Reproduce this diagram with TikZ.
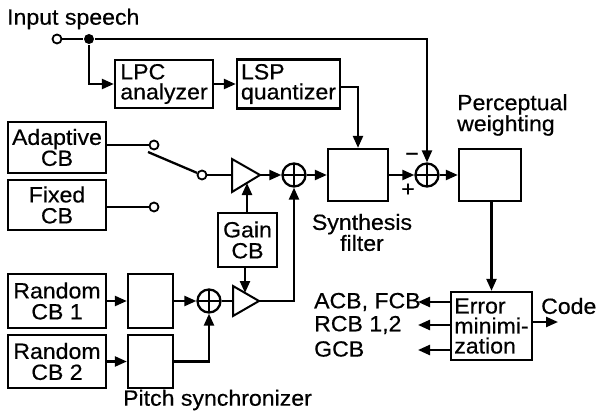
\documentclass[tikz,border=0pt]{standalone}
\usepackage{fontspec}
\setmainfont{Liberation Sans}[FakeStretch=1.05,FakeBold=0.5]
\usetikzlibrary{arrows.meta,calc}
\begin{document}
\begin{tikzpicture}[x=1pt,y=-1pt,
  line width=2.3pt,
  >={Triangle[length=12pt,width=10pt]},
  every node/.style={font=\fontsize{22}{21}\selectfont, inner sep=1pt},
  blk/.style={draw, line width=2.3pt, align=center},
  sumnode/.style={circle, draw, minimum size=23pt, inner sep=0pt,
    path picture={\draw[line width=2pt] (path picture bounding box.north) -- (path picture bounding box.south)
      (path picture bounding box.west) -- (path picture bounding box.east);}},
  term/.style={circle, draw, fill=white, minimum size=9pt, inner sep=0pt, line width=1.8pt},
  dotn/.style={circle, fill=black, minimum size=10pt, inner sep=0pt},
]
\useasboundingbox (0,0) rectangle (596,414);

% input
\node[anchor=west] (inlbl) at (5,19) {Input speech};
\node[term] (in) at (57,39) {};
\node[dotn] (dot) at (89,39) {};

% LPC / LSP
\node[blk, align=left, minimum width=98pt, minimum height=48pt] (lpc) at (164,84) {LPC\\[-1pt]analyzer};
\node[blk, align=left, minimum width=103pt, minimum height=49pt] (lsp) at (288.5,84) {LSP\\[-1pt]quantizer};

% codebooks
\node[blk, minimum width=98pt, minimum height=51pt] (acb) at (57,147.5) {Adaptive\\CB};
\node[blk, minimum width=98pt, minimum height=50pt] (fcb) at (57,205) {Fixed\\CB};
\node[blk, minimum width=98pt, minimum height=54pt] (rcb1) at (57,301) {Random\\CB 1};
\node[blk, minimum width=98pt, minimum height=53pt] (rcb2) at (57,361.5) {Random\\CB 2};

% pitch synchronizers
\node[blk, minimum width=45pt, minimum height=54pt] (ps1) at (150.5,301) {};
\node[blk, minimum width=45pt, minimum height=53pt] (ps2) at (150.5,361.5) {};
\node[anchor=west] (pslbl) at (121,400) {Pitch synchronizer};

% switch
\node[term] (c1) at (154,145) {};
\node[term] (c2) at (154,207) {};
\node[term] (piv) at (202,175) {};
\coordinate (arm) at (148,152);

% gain
\node[blk, minimum width=59pt, minimum height=54pt] (gain) at (247.5,240) {Gain\\CB};
\coordinate (t1a) at (232,159); \coordinate (t1b) at (232,192); \coordinate (t1out) at (260,175);
\coordinate (t1in) at (232,175); \coordinate (t1bot) at (247,183);
\draw[line width=2pt] (t1a) -- (t1out) -- (t1b) -- cycle;
\coordinate (t2a) at (233,286); \coordinate (t2b) at (233,316); \coordinate (t2out) at (259,301);
\coordinate (t2in) at (233,301); \coordinate (t2top) at (245,293);
\draw[line width=2pt] (t2a) -- (t2out) -- (t2b) -- cycle;

% sums
\node[sumnode] (sum1) at (294,175) {};
\node[sumnode] (sum3) at (209,301) {};
\node[sumnode] (sum2) at (427,175) {};

% synthesis / perceptual
\node[blk, minimum width=60pt, minimum height=52pt] (synth) at (358,175) {};
\node[align=center] (synlbl) at (362,232.5) {Synthesis\\filter};
\node[blk, minimum width=62pt, minimum height=52pt] (perc) at (490,175) {};
\node[anchor=west, align=left] (perclbl) at (455,115) {Perceptual\\weighting};
\node (minus) at (412,157) {−};
\node (plus) at (408,190) {+};

% error minimization
\node[blk, minimum width=81pt, minimum height=68pt, align=left, font=\fontsize{22}{20}\selectfont] (err) at (491.5,326) {Error\\minimi-\\zation};
\coordinate (codeend) at (558,322);
\node[anchor=west] (codelbl) at (539,306) {Code};
\coordinate (a1) at (418,302);
\coordinate (a2) at (418,325);
\coordinate (a3) at (418,350);
\node[anchor=west] (l1) at (312,302) {ACB, FCB};
\node[anchor=west] (l2) at (312,325) {RCB 1,2};
\node[anchor=west] (l3) at (312,349) {GCB};

% connectors
\draw (in) -- (dot);
\draw[->] (dot) -| (sum2.north);
\draw[->] (dot) |- (lpc.west);
\draw[->] (lpc) -- (lsp);
\draw[->] ($(lsp.east)+(0,3)$) -| (synth.north);
\draw (acb.east |- c1) -- (c1);
\draw (fcb.east |- c2) -- (c2);
\draw (piv) -- (arm);
\draw (piv) -- (t1in);
\draw[->] (t1out) -- (sum1);
\draw[->] (gain.north -| t1bot) -- (t1bot);
\draw[->] (gain.south -| t2top) -- (t2top);
\draw[->] (sum1) -- (synth);
\draw[->] (synth) -- (sum2);
\draw[->] (sum2) -- (perc);
\draw[->] (perc.south -| err.north) -- (err.north);
\draw[->] (rcb1) -- (ps1);
\draw[->] (rcb2) -- (ps2);
\draw[->] (ps1) -- (sum3);
\draw[->] (ps2.east) -| (sum3.south);
\draw (sum3) -- (t2in);
\draw[->] (t2out) -| (sum1.south);
\draw[->] (err.east |- codeend) -- (codeend);
\draw[->] (err.west |- a1) -- (a1);
\draw[->] (err.west |- a2) -- (a2);
\draw[->] (err.west |- a3) -- (a3);
\end{tikzpicture}
\end{document}
